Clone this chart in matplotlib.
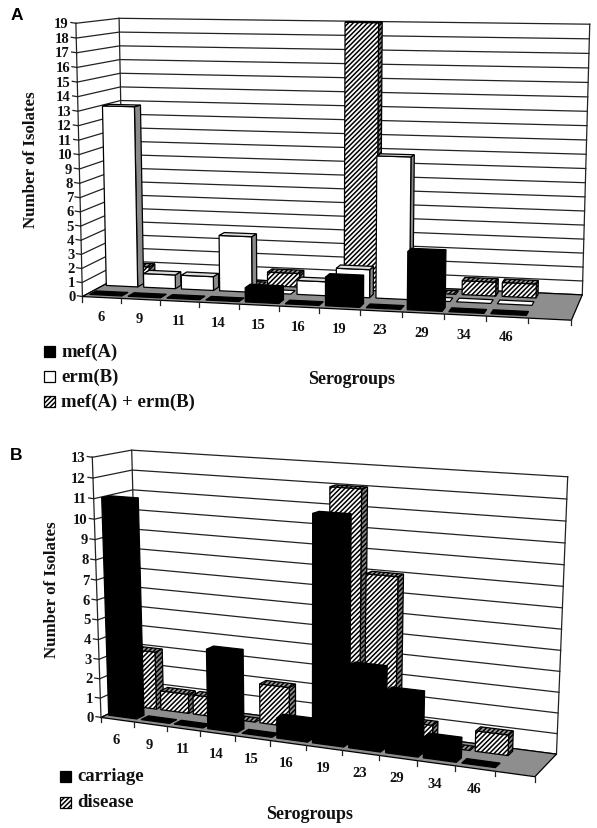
import numpy as np
import matplotlib
matplotlib.use("Agg")
import matplotlib.pyplot as plt
from matplotlib.patches import Polygon, Rectangle

plt.rcParams['hatch.linewidth'] = 1.1

categories = ['6', '9', '11', '14', '15', '16', '19', '23', '29', '34', '46']
mef_a = [0, 0, 0, 0, 1, 0, 2, 0, 4, 0, 0]
erm_b = [13, 1, 1, 4, 0, 1, 2, 10, 0, 0, 0]
mef_erm = [1, 0, 0, 0, 1, 0, 19, 0, 0, 1, 1]
carriage = [11, 0, 0, 4, 0, 1, 11, 4, 3, 1, 0]
disease = [3, 1, 1, 0, 2, 0, 12, 8, 1, 0, 1]

SERIF = 'Liberation Serif'
SANS = 'Liberation Sans'
GREY = '#8e8e8e'
HATCH = '///////'
SLOTS = 12  # the value axis reserves one empty category slot at the right


def fit_camera(vmax, corners):
    """Fit a projective camera from (category, value, depth) to figure pixels."""
    rows = []
    for (u, v, d), (x, y) in corners:
        X = np.array([u / SLOTS, v / vmax, d, 1.0])
        x, y = x / 600, y / 800
        rows.append(np.r_[X, np.zeros(4), -x * X])
        rows.append(np.r_[np.zeros(4), X, -y * X])
    P = np.linalg.svd(np.array(rows))[2][-1].reshape(3, 4)

    def project(u, v, d):
        h = P @ np.array([u / SLOTS, v / vmax, d, 1.0])
        return h[0] / h[2] * 600, h[1] / h[2] * 800
    return project


STYLES = {
    'black': dict(front=dict(fc='black'), top=dict(fc='black'), side=dict(fc='black')),
    'white': dict(front=dict(fc='white'), top=dict(fc='#dddddd'), side=dict(fc='#8a8a8a')),
    'hatch': dict(front=dict(fc='white', hatch=HATCH), top=dict(fc='#999999', hatch=HATCH),
                  side=dict(fc='#888888', hatch=HATCH)),
}


def poly(ax, pts, z, **kw):
    ax.add_patch(Polygon(pts, closed=True, ec='black', lw=0.9, zorder=z, **kw))


def bar(ax, pr, i, val, dc, half, style, z, width):
    u0, u1 = i + (1 - width) / 2, i + (1 + width) / 2
    d0, d1 = dc - half, dc + half
    st = STYLES[style]
    if val > 0:
        poly(ax, [pr(u1, 0, d0), pr(u1, 0, d1), pr(u1, val, d1), pr(u1, val, d0)], z, **st['side'])
        poly(ax, [pr(u0, 0, d0), pr(u1, 0, d0), pr(u1, val, d0), pr(u0, val, d0)], z, **st['front'])
    top = dict(st['top'])
    if val == 0 and style == 'white':
        top['fc'] = 'white'
    poly(ax, [pr(u0, val, d0), pr(u1, val, d0), pr(u1, val, d1), pr(u0, val, d1)], z, **top)


def chart(ax, corners, vmax, series, styles, width, half, depths, label_drop):
    pr = fit_camera(vmax, corners)
    line = dict(color='#222222', lw=0.9, zorder=2)
    poly(ax, [pr(0, 0, 0), pr(SLOTS, 0, 0), pr(SLOTS, 0, 1), pr(0, 0, 1)], 3, fc=GREY)
    for v in range(vmax + 1):
        a, b, c = pr(0, v, 0), pr(0, v, 1), pr(SLOTS, v, 1)
        ax.plot([a[0], b[0], c[0]], [a[1], b[1], c[1]], **line)
        t = (a[0] - 5, a[1] - 0.8)
        ax.plot([a[0], t[0]], [a[1], t[1]], **line)
        ax.text(a[0] - 7, a[1], str(v), ha='right', va='center', family=SERIF,
                weight='bold', fontsize=10.5, color='#111111')
    for pair in [((0, 0, 0), (0, vmax, 0)), ((0, 0, 1), (0, vmax, 1)), ((SLOTS, 0, 1), (SLOTS, vmax, 1))]:
        a, b = pr(*pair[0]), pr(*pair[1])
        ax.plot([a[0], b[0]], [a[1], b[1]], **line)
    for i in range(SLOTS + 1):
        x, y = pr(i, 0, 0)
        ax.plot([x, x], [y, y + 5], color='#222222', lw=0.9, zorder=3)
    for i, cat in enumerate(categories):
        x, y = pr(i + 0.5, 0, 0)
        ax.text(x - 1, y + label_drop, cat, ha='center', va='center', family=SERIF,
                weight='bold', fontsize=10.5, color='#111111')
    z = 4
    for row in range(len(series) - 1, -1, -1):
        for i, val in enumerate(series[row]):
            z += 0.01
            bar(ax, pr, i, val, depths[row], half, styles[row], z, width)


def legend(ax, x, entries, size, box):
    for y, style, name in entries:
        kw = dict(fc='black') if style == 'black' else dict(fc='white')
        if style == 'hatch':
            kw['hatch'] = HATCH
        ax.add_patch(Rectangle((x, y - box / 2), box, box, ec='black', lw=0.9, **kw))
        ax.text(x + box + 6, y, name, ha='left', va='center', family=SERIF,
                weight='bold', fontsize=size, color='#111111')


fig = plt.figure(figsize=(5.97, 8.29), dpi=100)
ax = fig.add_axes([0, 0, 1, 1])
ax.set_xlim(0, 597)
ax.set_ylim(829, 0)
ax.axis('off')

corners_a = [((0, 19, 0), (75.5, 25.5)), ((0, 0, 0), (82.7, 295)), ((0, 19, 1), (119.5, 17.7)),
             ((0, 0, 1), (124, 278)), ((12, 19, 1), (589.7, 25.7)), ((12, 0, 1), (582, 294)),
             ((12, 0, 0), (572, 322.7)), ((6, 0, 0), (319, 309))]
chart(ax, corners_a, 19, [mef_a, erm_b, mef_erm], ['black', 'white', 'hatch'], 0.84, 0.075,
      [0.17, 0.56, 0.86], 19)

corners_b = [((0, 13, 0), (92.7, 459)), ((0, 0, 0), (100.7, 716.7)), ((0, 13, 1), (131.3, 450)),
             ((0, 0, 1), (139, 703)), ((12, 13, 1), (567.7, 478.3)), ((12, 0, 1), (556.3, 753.3)),
             ((12, 0, 0), (535.3, 779.3)), ((6, 0, 0), (305, 746))]
chart(ax, corners_b, 13, [carriage, disease], ['black', 'hatch'], 0.86, 0.1, [0.24, 0.78], 20)

ax.text(17, 15, 'A', family=SANS, weight='bold', fontsize=12.5, ha='center', va='center')
ax.text(16, 455, 'B', family=SANS, weight='bold', fontsize=12.5, ha='center', va='center')

common = dict(family=SERIF, weight='bold', color='#111111', ha='center', va='center')
ax.text(31, 160, 'Number of Isolates', rotation=90, fontsize=12.2, **common)
ax.text(52, 590, 'Number of Isolates', rotation=90, fontsize=12.2, **common)
ax.text(352, 379, 'Serogroups', fontsize=13, **common)
ax.text(310, 815, 'Serogroups', fontsize=13, **common)

legend(ax, 44, [(352, 'black', 'mef(A)'), (377, 'white', 'erm(B)'), (402, 'hatch', 'mef(A) + erm(B)')], 13.5, 11)
legend(ax, 60, [(777, 'black', 'carriage'), (803, 'hatch', 'disease')], 13.5, 11)

fig.savefig('out.png', dpi=100)
